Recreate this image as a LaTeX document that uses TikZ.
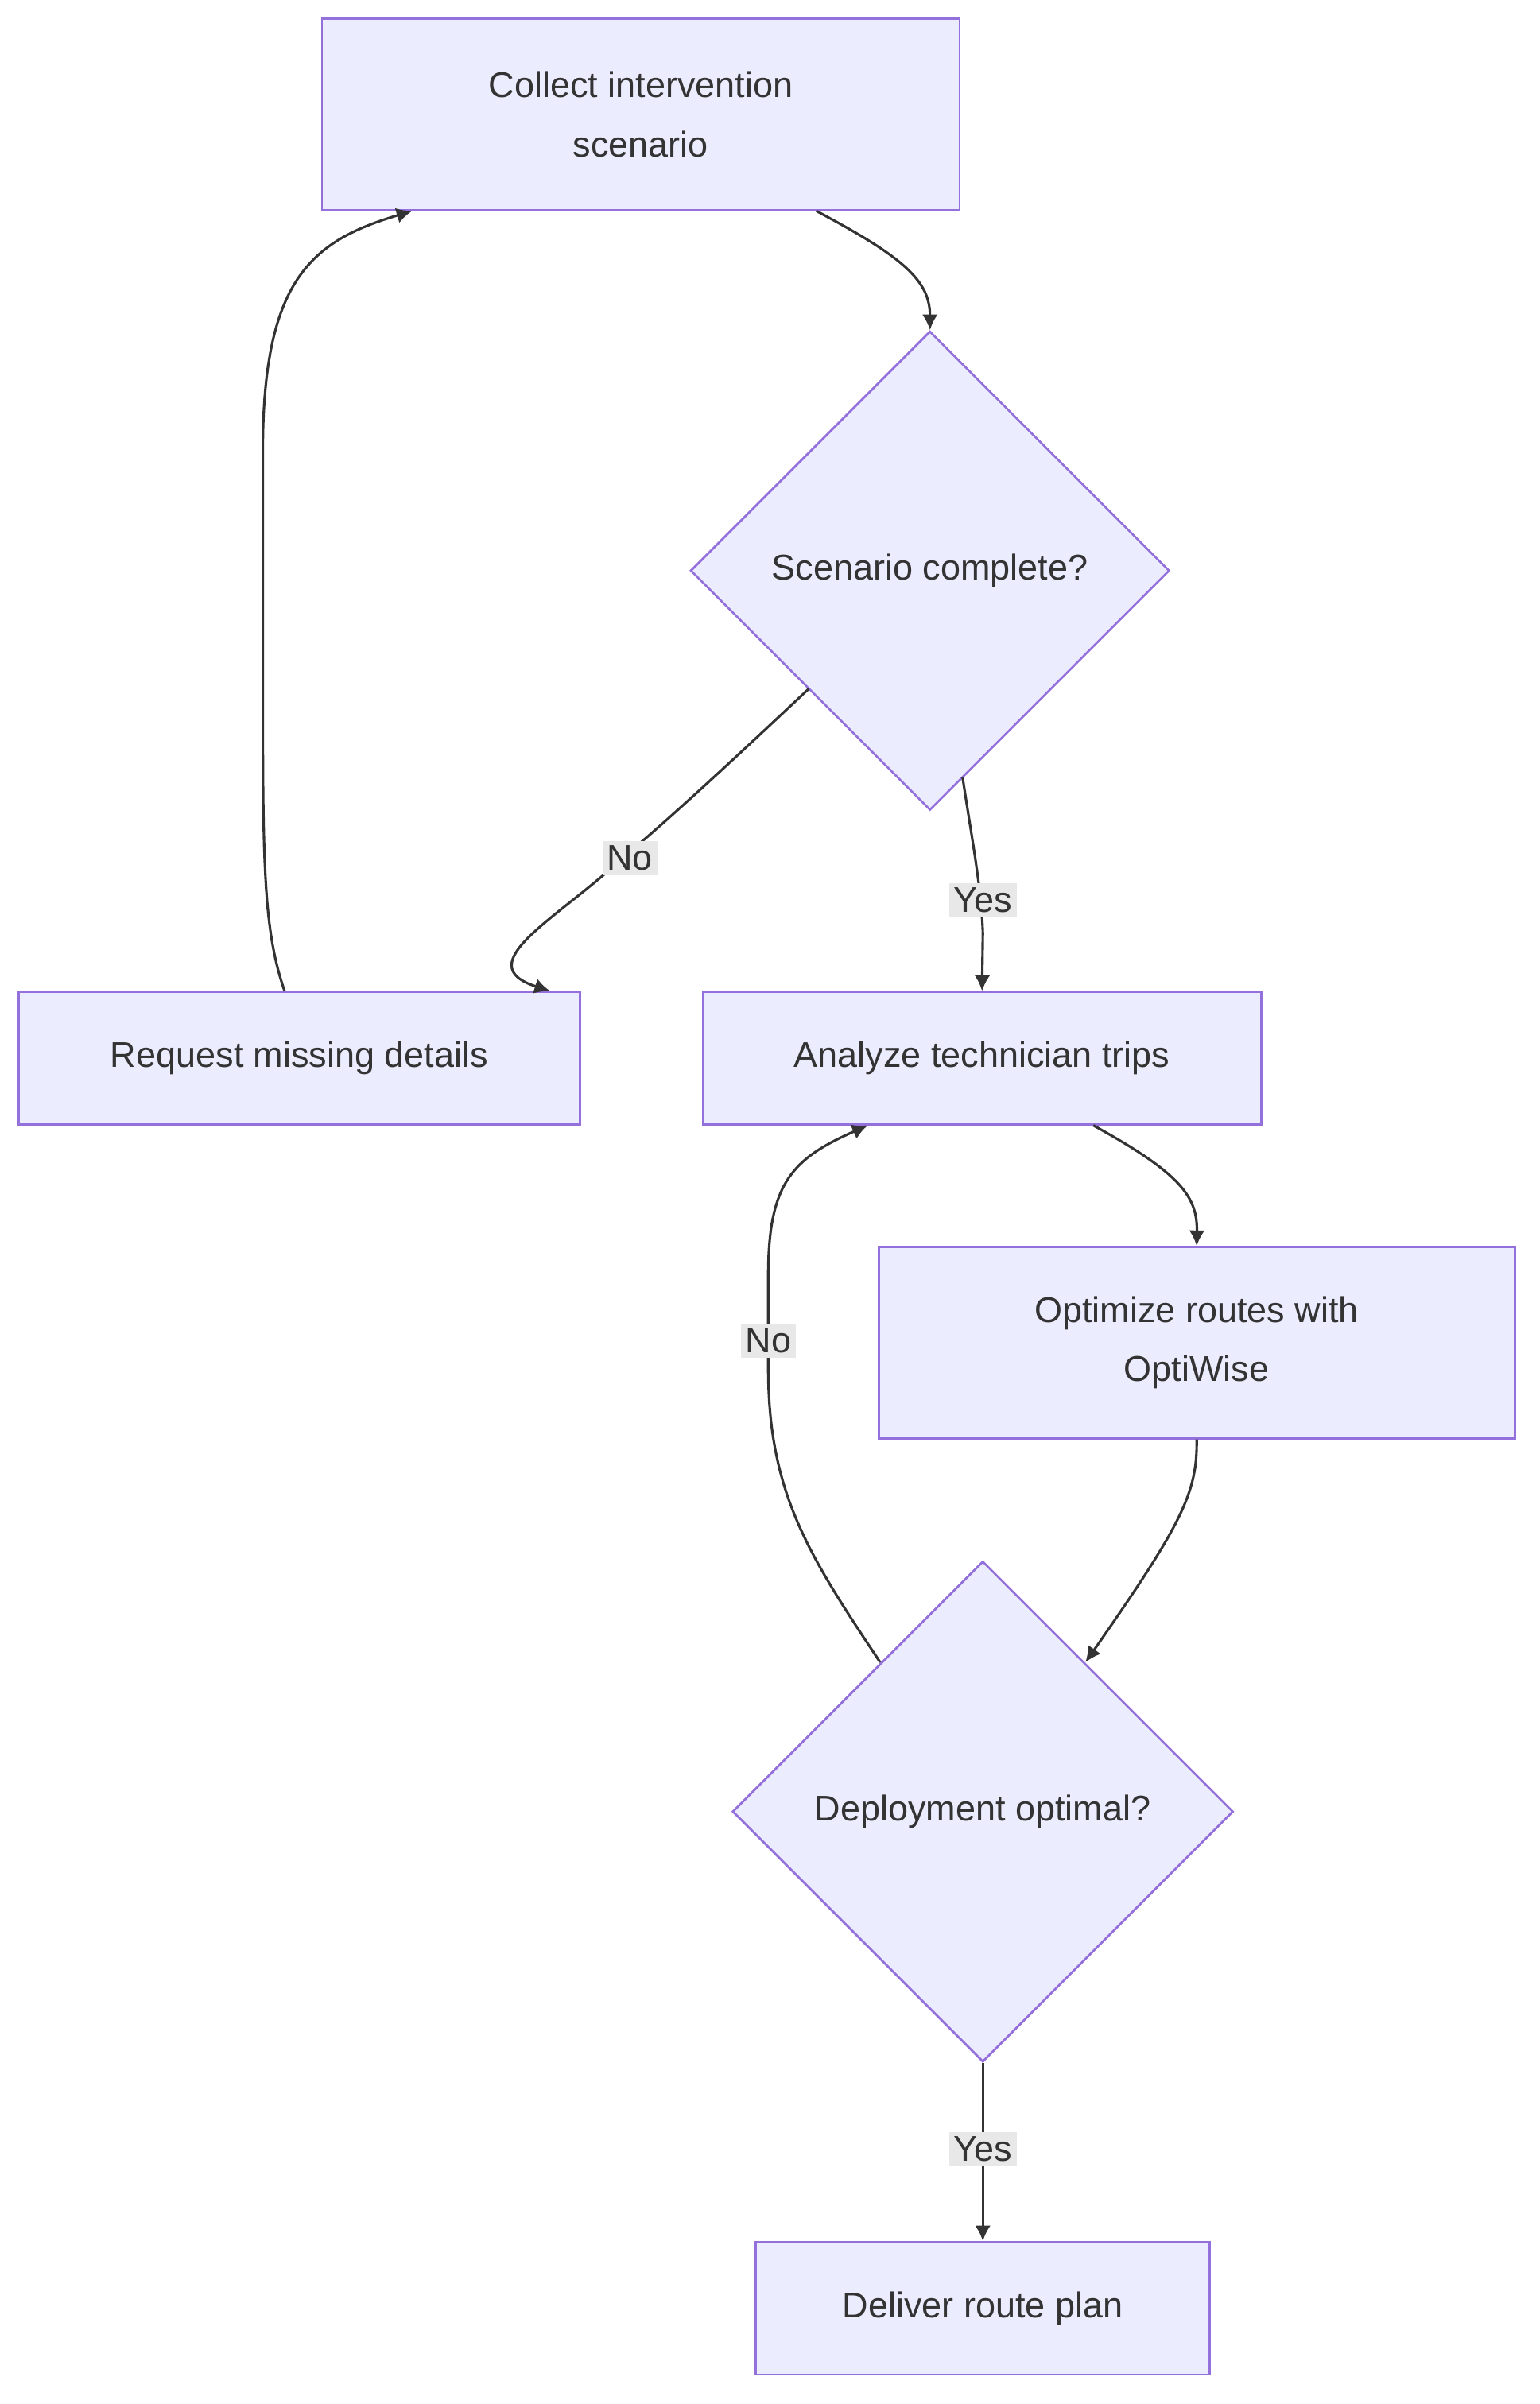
\documentclass[tikz,border=0pt]{standalone}
\usepackage{fontspec}
\setmainfont{Liberation Sans}
\usetikzlibrary{shapes.geometric,arrows.meta}
\definecolor{nf}{HTML}{ECECFF}\definecolor{ns}{HTML}{9370DB}
\definecolor{tx}{HTML}{333333}\definecolor{lb}{HTML}{E8E8E8}
\begin{document}
\begin{tikzpicture}[x=0.5pt,y=-0.5pt,
  box/.style={draw=ns,fill=nf,line width=0.7pt,inner sep=0,text=tx,font=\fontsize{11.5}{19}\selectfont,align=center},
  dia/.style={box,diamond,aspect=1},
  e/.style={draw=tx,line width=0.8pt,-{Latex[length=5pt,width=5pt]}},
  lab/.style={fill=lb,text=tx,font=\fontsize{11.5}{14}\selectfont,inner sep=1.5pt}]
\useasboundingbox (0,0) rectangle (990,1546);
\node[box,minimum width=205pt,minimum height=61.5pt] (col) at (412,73.5) {Collect intervention\\scenario};
\node[dia,minimum width=154pt,minimum height=154pt] (sc) at (598,367) {Scenario complete?};
\node[box,minimum width=180.5pt,minimum height=42.5pt] (req) at (192.5,680.5) {Request missing details};
\node[box,minimum width=179.5pt,minimum height=42.5pt] (ana) at (631.5,680.5) {Analyze technician trips};
\node[box,minimum width=204.5pt,minimum height=61.5pt] (opt) at (769.5,863.5) {Optimize routes with\\OptiWise};
\node[dia,minimum width=161pt,minimum height=161pt] (dep) at (632,1165) {Deployment optimal?};
\node[box,minimum width=146pt,minimum height=42.5pt] (del) at (632,1484.5) {Deliver route plan};
\draw[e] ([xshift=56.5pt]col.south) .. controls (580,165) and (598,180) .. (sc.north);
\draw[e] (520,443) .. controls (470,490) and (430,527) .. (400,552) .. controls (360,590) and (300,620) .. ([xshift=-10pt]req.north east |- req.north) coordinate (rq);
\node[lab] at (405,552) {No};
\draw[e] (619,500) .. controls (625,540) and (631,570) .. (632,600) -- (ana.north);
\node[lab] at (632,579) {Yes};
\draw[e] ([xshift=-4.75pt]req.north) .. controls (170,600) and (169,560) .. (169,450) -- (169,290) .. controls (169,180) and (200,155) .. ([xshift=-73.5pt]col.south);
\draw[e] ([xshift=35.75pt]ana.south) .. controls (760,755) and (770,770) .. (opt.north);
\draw[e] (opt.south) .. controls (770,960) and (760,980) .. (698,1069);
\draw[e] (566,1069) .. controls (520,1000) and (494,960) .. (494,880) -- (494,820) .. controls (494,760) and (510,745) .. ([xshift=-36.75pt]ana.south);
\node[lab] at (494,862) {No};
\draw[e] (dep.south) -- (del.north);
\node[lab] at (632,1382) {Yes};
\end{tikzpicture}
\end{document}
